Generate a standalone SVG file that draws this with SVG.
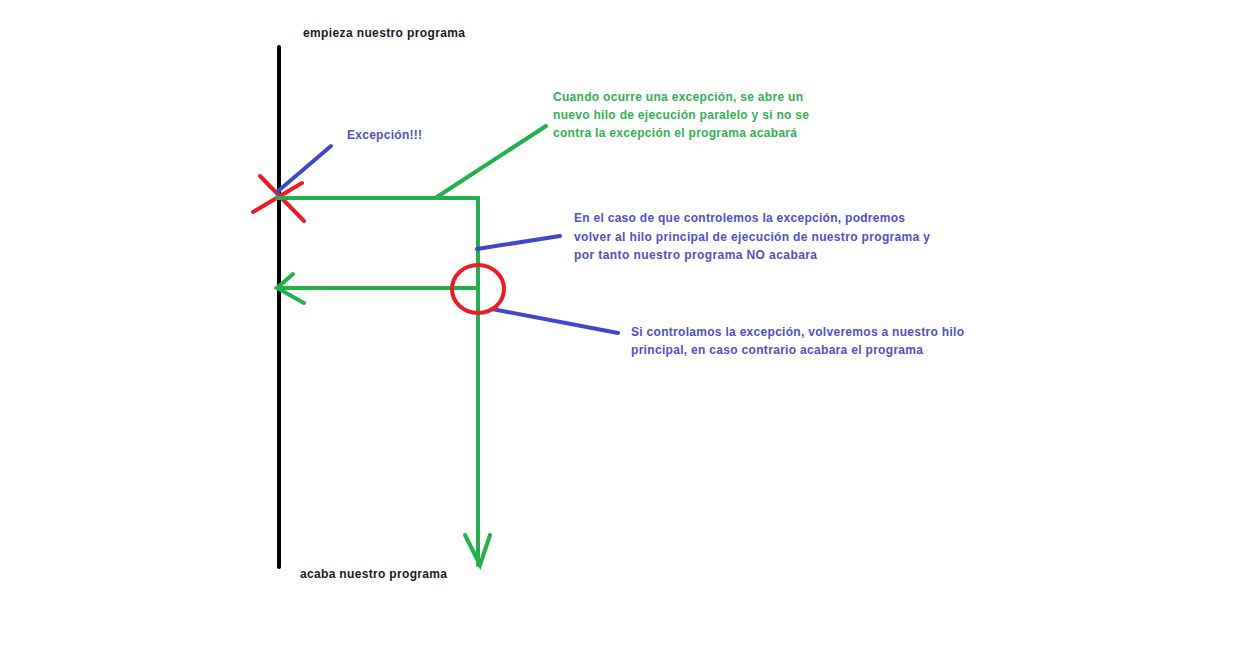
<svg xmlns="http://www.w3.org/2000/svg" width="1256" height="653" viewBox="0 0 1256 653">
<style>
text{font-family:"Liberation Sans",Arial,sans-serif;font-weight:bold;font-size:12px}
.k{fill:#1a1a1a}
.g{fill:#2fb352}
.b{fill:#5050cc}
.lg{stroke:#22B14C;stroke-width:4;fill:none;stroke-linecap:round}
.lb{stroke:#3F48CC;stroke-width:4;fill:none;stroke-linecap:round}
.lr{stroke:#ED1C24;stroke-width:4;fill:none;stroke-linecap:round}
</style>
<rect width="1256" height="653" fill="#fff"/>
<g id="main-thread">
<line x1="279" y1="47" x2="279" y2="567" stroke="#000" stroke-width="4" stroke-linecap="round"/>
<text class="k" x="303" y="37" textLength="162">empieza nuestro programa</text>
<text class="k" x="300" y="578" textLength="147">acaba nuestro programa</text>
</g>
<g id="exception">
<line class="lr" x1="260" y1="176" x2="304" y2="221"/>
<line class="lr" x1="253" y1="212" x2="302" y2="183"/>
<text class="b" x="347" y="139" textLength="75">Excepción!!!</text>
</g>
<g id="connectors">
<line class="lb" x1="277" y1="192" x2="331" y2="146"/>
<polyline class="lg" points="277,198 478,198 478,565"/>
<line class="lg" x1="437" y1="197" x2="546" y2="126"/>
<line class="lg" x1="478" y1="288" x2="277" y2="288"/>
<polyline class="lg" points="293,274 277,288 304,303"/>
<polyline class="lg" points="465,535 480,565 490,535"/>
<line class="lb" x1="477" y1="249" x2="560" y2="236"/>
<line class="lb" x1="492" y1="309" x2="618" y2="333"/>
</g>
<g id="control-point">
<ellipse cx="478" cy="289" rx="26" ry="24" class="lr"/>
</g>
<g id="note-new-thread">
<text class="g" x="553" y="101" textLength="250">Cuando ocurre una excepción, se abre un</text>
<text class="g" x="553" y="119" textLength="256">nuevo hilo de ejecución paralelo y si no se</text>
<text class="g" x="553" y="137" textLength="244">contra la excepción el programa acabará</text>
</g>
<g id="note-controlled">
<text class="b" x="574" y="222" textLength="331">En el caso de que controlemos la excepción, podremos</text>
<text class="b" x="574" y="241" textLength="356">volver al hilo principal de ejecución de nuestro programa y</text>
<text class="b" x="574" y="259" textLength="243">por tanto nuestro programa NO acabara</text>
</g>
<g id="note-return">
<text class="b" x="631" y="336" textLength="333">Si controlamos la excepción, volveremos a nuestro hilo</text>
<text class="b" x="631" y="354" textLength="292">principal, en caso contrario acabara el programa</text>
</g>
</svg>
